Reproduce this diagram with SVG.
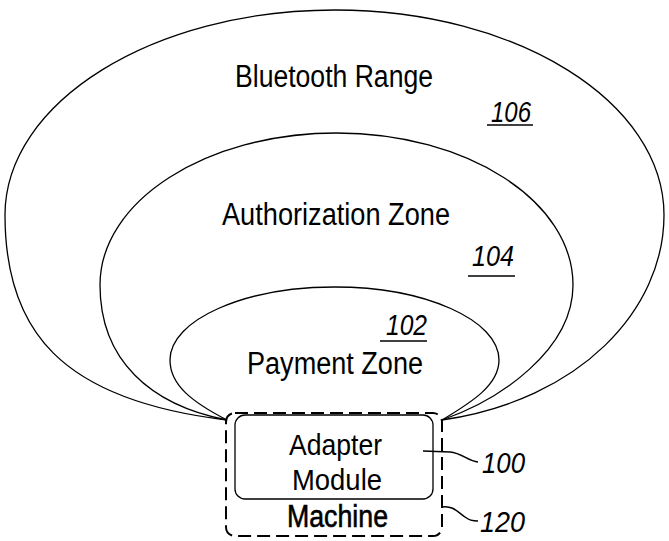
<svg xmlns="http://www.w3.org/2000/svg" width="669" height="541" viewBox="0 0 669 541">
<style>
.zone{fill:none;stroke:#000;stroke-width:1.3}
.lbl{font-family:"Liberation Sans",Arial,sans-serif;font-size:31px;fill:#000}
.num{font-family:"Liberation Sans",Arial,sans-serif;font-size:29px;font-style:italic;fill:#000}
.ul{stroke:#000;stroke-width:1.5}
.lead{fill:none;stroke:#000;stroke-width:1.5}
</style>
<rect width="669" height="541" fill="#fff"/>
<g id="bluetooth-range">
<path class="zone" d="M227 420 C60 400,5 330,5 215 C5 102,153 10,335 10 C517 10,664 102,664 215 C664 310,580 400,442 420"/>
<text class="lbl" x="235" y="87" textLength="198" lengthAdjust="spacingAndGlyphs">Bluetooth Range</text>
<text class="num" x="491" y="122" textLength="40" lengthAdjust="spacingAndGlyphs">106</text>
<line class="ul" x1="487" y1="125" x2="533" y2="125"/>
</g>
<g id="authorization-zone">
<path class="zone" d="M227 420 C150 405,100 360,100 285 C100 201,206 133,336.5 133 C467 133,573 201,573 285 C573 350,500 400,442 420"/>
<text class="lbl" x="222" y="225" textLength="228" lengthAdjust="spacingAndGlyphs">Authorization Zone</text>
<text class="num" x="472" y="266" textLength="42" lengthAdjust="spacingAndGlyphs">104</text>
<line class="ul" x1="468" y1="276" x2="515" y2="276"/>
</g>
<g id="payment-zone">
<path class="zone" d="M227 420 C192 402,170 385,170 360 C170 320,244 287,334.5 287 C425 287,499 320,499 360 C499 385,472 402,442 420"/>
<text class="lbl" x="247" y="374" textLength="176" lengthAdjust="spacingAndGlyphs">Payment Zone</text>
<text class="num" x="386" y="335" textLength="41" lengthAdjust="spacingAndGlyphs">102</text>
<line class="ul" x1="380" y1="341" x2="427" y2="341"/>
</g>
<g id="machine">
<rect x="226" y="413" width="216" height="123" rx="9" fill="none" stroke="#000" stroke-width="2" stroke-dasharray="13 6"/>
<text class="lbl" x="287" y="527" stroke="#000" stroke-width="0.6" textLength="101" lengthAdjust="spacingAndGlyphs" style="font-size:31px">Machine</text>
</g>
<g id="adapter-module">
<rect x="235" y="415" width="198" height="84" rx="10" fill="#fff" stroke="#000" stroke-width="1.3"/>
<text class="lbl" x="289" y="455" textLength="93" lengthAdjust="spacingAndGlyphs" style="font-size:29px">Adapter</text>
<text class="lbl" x="292" y="490" textLength="90" lengthAdjust="spacingAndGlyphs" style="font-size:29px">Module</text>
</g>
<g id="connectors">
<path class="lead" d="M423 451 L450 452 C462 453,468 461,478 462"/>
<path class="lead" d="M442 507 C452 505,458 512,465 517 C470 521,474 521,478 521"/>
</g>
<g id="labels">
<text class="num" x="482" y="473" textLength="43" lengthAdjust="spacingAndGlyphs">100</text>
<text class="num" x="480" y="532" textLength="45" lengthAdjust="spacingAndGlyphs">120</text>
</g>
</svg>
